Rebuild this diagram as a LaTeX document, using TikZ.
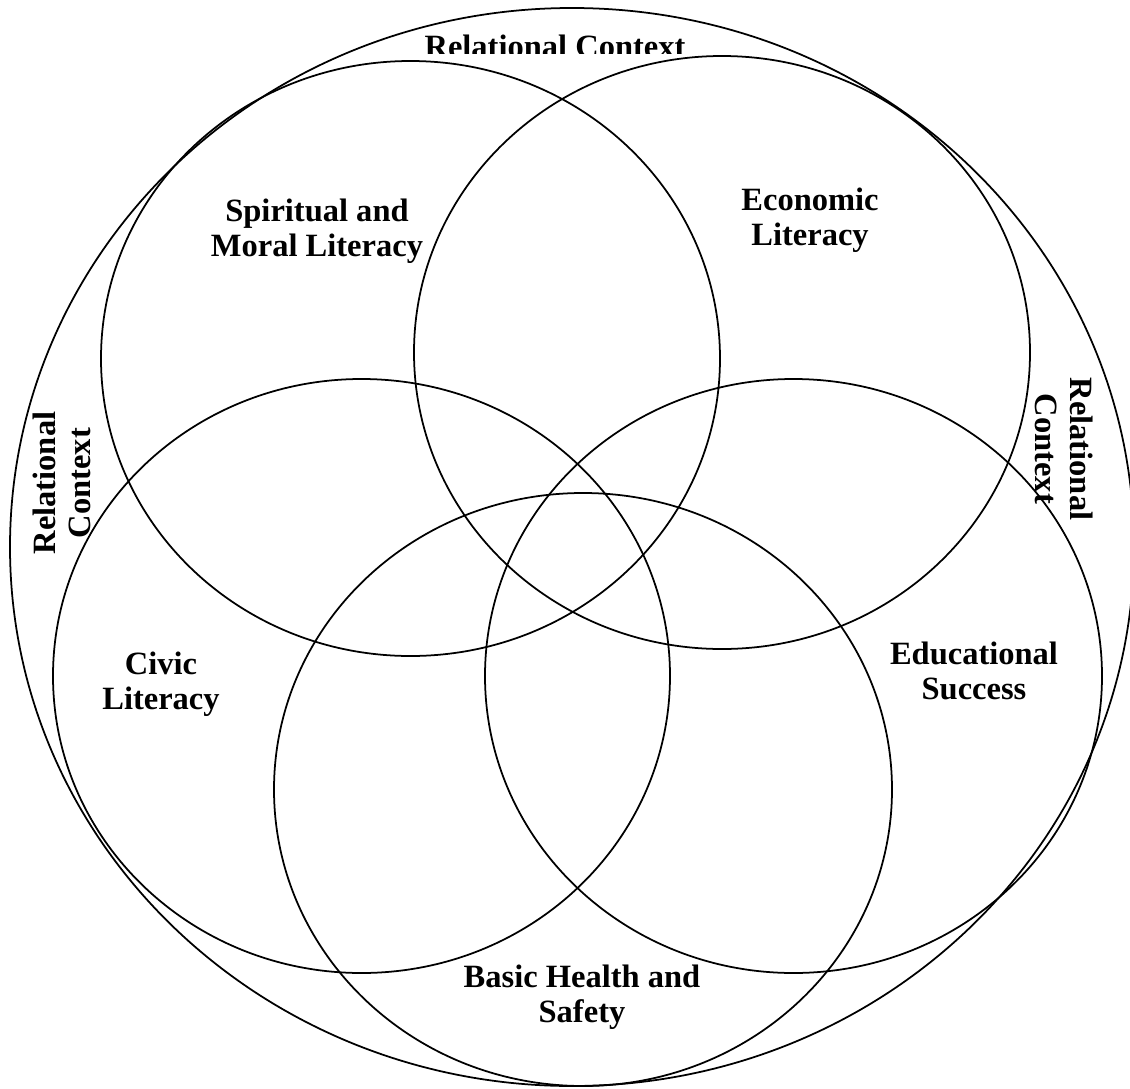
\documentclass[tikz,border=0pt]{standalone}
\usepackage{fontspec}
\setmainfont{Liberation Serif}

\begin{document}
\begin{tikzpicture}[x=0.02cm,y=-0.02cm,
  set line/.style={line width=1pt},
  set label/.style={font=\bfseries\fontsize{18.5}{19.8}\selectfont,
    align=center,inner sep=0pt}]
  \clip (0,0) rectangle (1130,1089);
  % outer context and the five sets
  \draw[set line] (572,547) ellipse [x radius=562, y radius=539];
  \draw[set line] (410.5,358.5) ellipse [x radius=309.5, y radius=297.5];
  \draw[set line] (722,352.5) ellipse [x radius=308, y radius=296.5];
  \draw[set line] (361.5,676) ellipse [x radius=308.5, y radius=297];
  \draw[set line] (793.5,676) ellipse [x radius=308.5, y radius=297];
  \draw[set line] (583,789.5) ellipse [x radius=309, y radius=296.5];
  \node[set label] (spirit) at (317,231)  {Spiritual and\\Moral Literacy};
  \node[set label] (econ)   at (810,220)  {Economic\\Literacy};
  \node[set label] (civic)  at (161,684)  {Civic\\Literacy};
  \node[set label] (edu)    at (974,671)  {Educational\\Success};
  \node[set label] (health) at (582,997)  {Basic Health and\\Safety};
  \node[set label,rotate=90]  (ctxleft)  at (62,483)  {Relational\\Context};
  \node[set label,rotate=-90] (ctxright) at (1064,449) {Relational\\Context};
  \begin{scope}
    \clip (300,0) rectangle (800,53);
    \node[set label] (ctxtop) at (555,46) {Relational Context};
  \end{scope}
\end{tikzpicture}
\end{document}
